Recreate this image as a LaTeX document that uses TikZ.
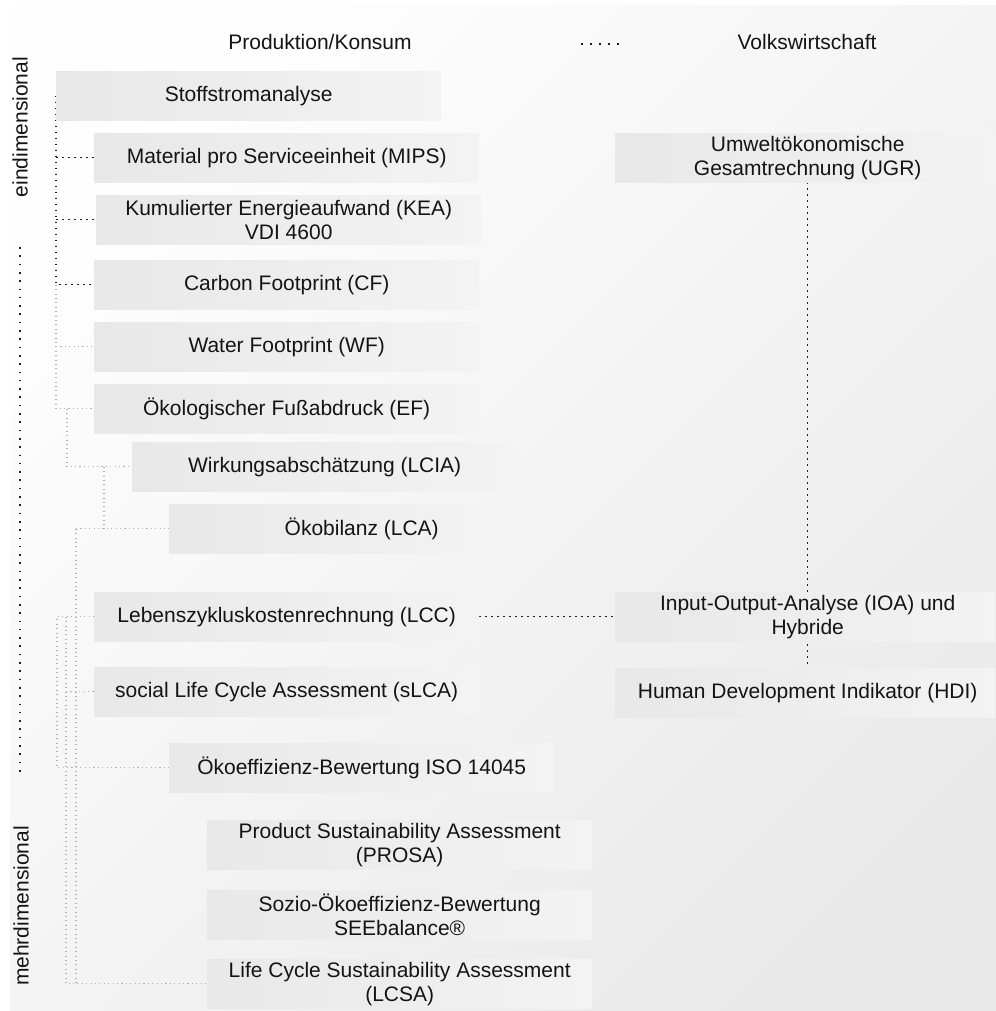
\documentclass[tikz,border=0pt]{standalone}
\usepackage{fontspec}
\setmainfont{Liberation Sans}
\pgfdeclarelayer{back}
\pgfsetlayers{back,main}
\begin{document}
\begin{tikzpicture}[x=1pt,y=-1pt,
  every node/.style={text=black!92},
  lbl/.style={font=\fontsize{21}{24}\selectfont, inner sep=0pt},
  plain/.style={anchor=north west, minimum width=385pt, minimum height=49pt,
    inner sep=0pt, align=center, font=\fontsize{21}{24}\selectfont},
  box/.style={plain, rectangle, left color=boxL, right color=boxR},
  blk/.style={draw=black!88, line width=1.5pt, dash pattern=on 1.5pt off 4.5pt},
  blklong/.style={draw=black!88, line width=1.6pt, dash pattern=on 1.6pt off 6.7pt},
  gry/.style={draw=black!30, line width=1.1pt, dash pattern=on 1.1pt off 3.3pt}]
\definecolor{bgA}{HTML}{FEFEFE}
\definecolor{bgB}{HTML}{E9E9E9}
\definecolor{boxL}{HTML}{E8E8E8}
\definecolor{boxR}{HTML}{F3F3F3}

\useasboundingbox (0,0) rectangle (995,1011);
\clip (0,0) rectangle (995,1011);

% column headings
\node[lbl] (prod) at (320,42) {Produktion/Konsum};
\node[lbl] (volk) at (807,42) {Volkswirtschaft};
\coordinate (hd1) at (581,44);
\coordinate (hd2) at (619,44);

% dimension labels
\node[lbl, rotate=90] (eind) at (20,127) {eindimensional};
\node[lbl, rotate=90] (mehr) at (21,906) {mehrdimensional};
\coordinate (vt) at (20,247);
\coordinate (vb) at (20,778);

% trunk positions of the left tree
\coordinate (tA) at (57,0);
\coordinate (tB) at (66,0);
\coordinate (tC) at (76,0);
\coordinate (tD) at (67,0);
\coordinate (tE) at (104,0);

% method boxes, product level
\node[box] (stoff) at (56,71)  {Stoffstromanalyse};
\node[box] (mips)  at (94,133) {Material pro Serviceeinheit (MIPS)};
\node[box] (kea)   at (96,195) {Kumulierter Energieaufwand (KEA)\\VDI 4600};
\node[box] (cf)    at (94,260) {Carbon Footprint (CF)};
\node[box] (wf)    at (94,322) {Water Footprint (WF)};
\node[box] (ef)    at (94,384) {Ökologischer Fußabdruck (EF)};
\node[box] (lcia)  at (132,442) {Wirkungsabschätzung (LCIA)};
\node[plain] (lca) at (169,504) {Ökobilanz (LCA)};
\node[box] (lcc)   at (94,592) {Lebenszykluskostenrechnung (LCC)};
\node[box] (slca)  at (94,667) {social Life Cycle Assessment (sLCA)};
\node[box] (oeko)  at (169,743) {Ökoeffizienz-Bewertung ISO 14045};
\node[box] (prosa) at (207,820) {Product Sustainability Assessment\\(PROSA)};
\node[box] (see)   at (207,890) {Sozio-Ökoeffizienz-Bewertung\\SEEbalance®};
\node[box] (lcsa)  at (207,959) {Life Cycle Sustainability Assessment\\(LCSA)};

% method boxes, macro level
\node[box] (ugr) at (615,133) {Umweltökonomische\\Gesamtrechnung (UGR)};
\node[box] (ioa) at (615,592) {Input-Output-Analyse (IOA) und\\Hybride};
\node[box] (hdi) at (615,668) {Human Development Indikator (HDI)};

\begin{pgfonlayer}{back}
  % backdrop panel
  \shade[top color=bgA, bottom color=bgB, shading angle=45, rounded corners=8pt]
    (10,5) rectangle (1030,1040);
  % the shorter life cycle assessment box
  \shade[left color=boxL, right color=boxR]
    (lca.north west) rectangle ([xshift=313pt]lca.south west);
  % heading separator and dimension axis
  \draw[draw=black!88, line width=1.6pt, dash pattern=on 1.6pt off 7.5pt] (hd1) -- (hd2);
  \draw[blklong] (vt) -- (vb);
  % one-dimensional group
  \draw[blk] (stoff.west) |- (cf.west);
  \draw[blk] (stoff.west |- mips.west) -- (mips.west);
  \draw[blk] (stoff.west |- kea.west) -- (kea.west);
  % footprints and life cycle branch
  \draw[gry] (stoff.west |- cf.west) |- (ef.west);
  \draw[gry] (stoff.west |- wf.west) -- (wf.west);
  \draw[gry] (tD |- ef.west) |- (lcia.west);
  \draw[gry] (tE |- lcia.west) -- (tE |- lca.west);
  \draw[gry] (tC |- lca.west) -- (lca.west);
  \draw[gry] (tC |- lca.west) -- (tC |- lcsa.west);
  % multi-dimensional group
  \draw[gry] (lcc.west) -| (tA |- oeko.west) -- (oeko.west);
  \draw[gry] (tB |- lcc.west) |- (lcsa.west);
  \draw[gry] (tB |- slca.west) -- (slca.west);
  % macro level links
  \draw[blk] (ugr.south) -- (hdi.north);
  \draw[blk] (lcc.east) -- (ioa.west);
\end{pgfonlayer}
\end{tikzpicture}
\end{document}
